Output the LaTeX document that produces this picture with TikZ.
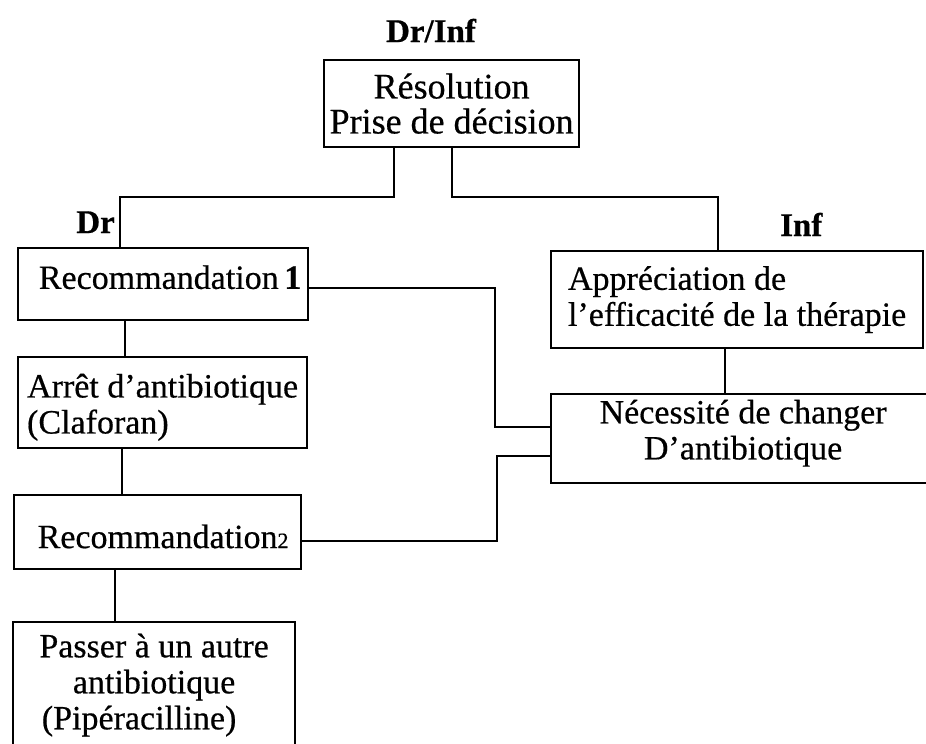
\documentclass[tikz,border=0pt]{standalone}
\usepackage{fontspec}
\setmainfont{Liberation Serif}[FakeBold=0.5]
\begin{document}
\begin{tikzpicture}[x=1pt,y=-1pt,
  box/.style={draw, line width=2.2pt, rectangle, anchor=north west, inner sep=0pt,
              font=\fontsize{34}{36}\selectfont},
  tag/.style={inner sep=0pt, font=\fontsize{33}{36}\selectfont\bfseries},
  wire/.style={line width=2.2pt}]
\useasboundingbox[fill=white] (0,0) rectangle (926,744);

% boxes
\node[box, minimum width=255pt, minimum height=87pt, align=center,
      font=\fontsize{36}{35}\selectfont] (res) at (323,59)
  {Résolution\\Prise de décision};
\node[box, minimum width=290pt, minimum height=72pt, text depth=14pt] (rec1) at (17,247)
  {\hspace*{14pt}Recommandation\,\textbf{1}};
\node[box, minimum width=289pt, minimum height=91pt, align=left] (arret) at (17,356)
  {\rule{0pt}{33pt}Arrêt d’antibiotique\\(Claforan)};
\node[box, minimum width=287pt, minimum height=74pt, text height=32pt, text depth=0pt] (rec2) at (13,494)
  {\hspace*{11pt}Recommandation{\fontsize{22}{22}\selectfont 2}};
\node[box, minimum width=282pt, minimum height=126pt, align=center] (passer) at (12,621)
  {Passer à un autre\\antibiotique\\\hspace*{-30pt}(Pipéracilline)};
\node[box, minimum width=372pt, minimum height=97pt, align=left] (appr) at (550,250)
  {Appréciation de\\l’efficacité de la thérapie};
\node[box, minimum width=384pt, minimum height=89pt, align=center] (nec) at (550,393)
  {Nécessité de changer\\D’antibiotique\rule[-18pt]{0pt}{18pt}};

% role labels
\node[tag, anchor=base] (drinf) at (431,42) {Dr/Inf};
\node[tag, anchor=base east] (dr) at (115,233) {Dr};
\node[tag, anchor=base west] (inf) at (780,236) {Inf};

% junction points of the connectors
\coordinate (jl) at (394,197);
\coordinate (jr) at (452,197);
\coordinate (xdr) at (120,0);
\coordinate (xinf) at (718,0);
\coordinate (ja) at (495,288);
\coordinate (jb) at (495,427);
\coordinate (jc) at (497,541);
\coordinate (jd) at (497,456);
\coordinate (v1) at (125,0);
\coordinate (v2) at (122,0);
\coordinate (v3) at (115,0);
\coordinate (v4) at (725,0);

% connectors
\draw[wire] (res.south -| jl) -- (jl) -| (rec1.north -| xdr);
\draw[wire] (res.south -| jr) -- (jr) -| (appr.north -| xinf);
\draw[wire] (rec1.east |- ja) -- (ja) -- (jb) -- (nec.west |- jb);
\draw[wire] (rec2.east |- jc) -- (jc) -- (jd) -- (nec.west |- jd);
\draw[wire] (rec1.south -| v1) -- (arret.north -| v1);
\draw[wire] (arret.south -| v2) -- (rec2.north -| v2);
\draw[wire] (rec2.south -| v3) -- (passer.north -| v3);
\draw[wire] (appr.south -| v4) -- (nec.north -| v4);
\end{tikzpicture}
\end{document}
